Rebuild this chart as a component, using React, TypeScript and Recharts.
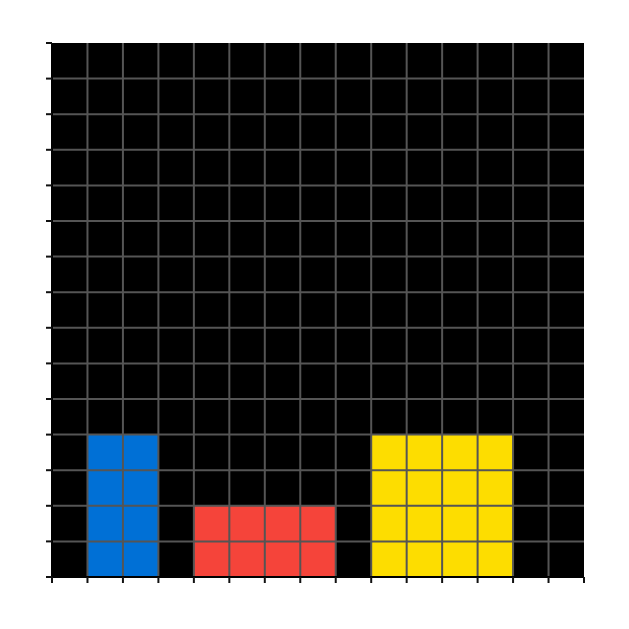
import { ComposedChart, XAxis, YAxis, CartesianGrid, ReferenceArea, ReferenceLine } from 'recharts';

const categories = ['Blue', 'Red', 'Yellow'];
const barStart = [1, 4, 9];
const barEnd = [3, 8, 13];
const barHeight = [4, 2, 4];
const barColors = ['#0070d6', '#f5443a', '#fddd00'];

const xTicks = [0, 1, 2, 3, 4, 5, 6, 7, 8, 9, 10, 11, 12, 13, 14, 15];
const yTicks = [0, 1, 2, 3, 4, 5, 6, 7, 8, 9, 10, 11, 12, 13, 14, 15];

const GRID = '#555555';

export default function App() {
  return (
    <div style={{ position: 'absolute', left: 0, top: 0, background: '#fff' }}>
      <ComposedChart
        width={629}
        height={629}
        data={[{ x: 0, y: 0 }, { x: 15, y: 15 }]}
        margin={{ top: 43, right: 45, bottom: 0, left: 0 }}
      >
        <CartesianGrid fill="#000" horizontal={false} vertical={false} />
        <XAxis
          type="number"
          dataKey="x"
          domain={[0, 15]}
          ticks={xTicks}
          height={52}
          tickSize={6}
          tickFormatter={() => ''}
          axisLine={{ stroke: '#000', strokeWidth: 2 }}
          tickLine={{ stroke: '#111', strokeWidth: 2 }}
          allowDataOverflow
        />
        <YAxis
          type="number"
          dataKey="y"
          domain={[0, 15]}
          ticks={yTicks}
          width={52}
          tickSize={6}
          tickFormatter={() => ''}
          axisLine={{ stroke: '#000', strokeWidth: 2 }}
          tickLine={{ stroke: '#111', strokeWidth: 2 }}
          allowDataOverflow
        />
        {categories.map((c, i) => (
          <ReferenceArea
            key={c}
            x1={barStart[i]}
            x2={barEnd[i]}
            y1={0}
            y2={barHeight[i]}
            fill={barColors[i]}
            fillOpacity={1}
            stroke="none"
            ifOverflow="visible"
          />
        ))}
        {xTicks.slice(1, -1).map((t) => (
          <ReferenceLine key={'vx' + t} x={t} stroke={GRID} strokeWidth={2} />
        ))}
        {yTicks.slice(1, -1).map((t) => (
          <ReferenceLine key={'hy' + t} y={t} stroke={GRID} strokeWidth={2} />
        ))}
      </ComposedChart>
    </div>
  );
}
